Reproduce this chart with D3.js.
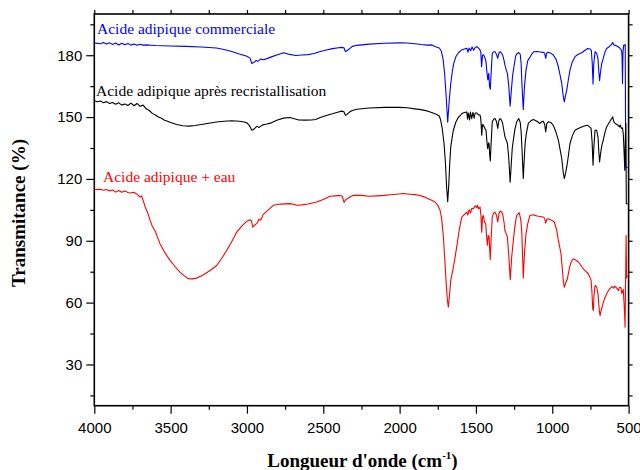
<!DOCTYPE html>
<html>
<head>
<meta charset="utf-8">
<script src="https://cdn.jsdelivr.net/npm/d3@7"></script>
<style>
  body { margin: 0; background: #fff; }
  svg { display: block; }
</style>
</head>
<body>
<svg id="chart" width="640" height="470"></svg>
<script>
// ---- data (wavenumber cm-1, transmittance %) ----
var wnCommerciale = [4000,3960,3940,3920,3900,3880,3860,3840,3820,3800,3780,3760,3740,3720,3700,3680,3650,3600,3500,3400,3300,3200,3150,3100,3050,3000,2980,2968,2960,2950,2940,2930,2910,2890,2860,2840,2800,2760,2720,2680,2640,2600,2560,2520,2480,2440,2400,2380,2365,2355,2345,2330,2310,2280,2200,2100,2000,1950,1900,1860,1820,1790,1760,1740,1728,1715,1705,1695,1685,1675,1665,1655,1645,1630,1615,1595,1575,1560,1552,1545,1535,1525,1515,1505,1495,1485,1475,1468,1463,1457,1450,1440,1434,1427,1422,1416,1411,1406,1400,1393,1385,1375,1366,1357,1350,1342,1333,1325,1316,1310,1300,1294,1285,1276,1268,1260,1250,1240,1233,1220,1210,1204,1198,1190,1182,1172,1160,1150,1135,1120,1100,1080,1060,1050,1043,1036,1026,1010,993,975,960,948,938,928,921,913,905,895,884,870,851,830,807,785,768,752,744,738,733,728,720,709,700,695,690,684,676,666,655,644,630,618,610,604,598,591,580,569,558,547,543,540,537,532,525,522,519,506];
var tCommerciale = [186.0,185.6,186.2,185.4,186.0,185.2,185.9,185.0,185.8,185.1,185.7,184.9,185.5,184.8,185.3,184.9,185.0,184.7,184.5,184.3,184.0,183.5,182.8,181.8,180.6,179.5,178.6,176.0,176.3,176.8,177.5,177.0,178.1,177.8,178.6,179.2,180.2,181.2,180.4,179.9,180.1,180.3,180.8,181.8,182.5,183.2,183.6,183.8,183.6,181.8,182.2,183.0,184.3,184.8,185.4,185.8,186.0,185.9,185.6,185.2,184.9,185.0,184.0,183.5,182.2,178.0,171.0,160.0,147.5,158.0,166.3,172.0,176.2,179.5,181.2,182.5,183.0,183.4,181.5,183.5,182.2,184.0,182.4,183.8,184.1,183.6,182.8,181.5,174.4,180.0,180.2,178.5,176.8,171.0,168.0,171.2,165.0,163.5,172.0,180.9,181.7,181.7,180.5,178.5,181.0,181.7,181.0,180.1,177.5,175.2,172.5,171.2,165.0,155.3,163.0,170.0,175.0,179.5,180.6,181.3,180.5,176.0,165.0,153.7,165.0,172.8,177.5,178.5,180.5,181.7,181.8,181.6,181.4,181.0,178.5,181.2,181.4,181.0,180.1,178.0,174.4,170.0,166.3,160.0,157.4,160.5,163.1,168.0,172.8,176.5,179.3,180.5,181.2,182.4,183.3,183.0,182.2,176.0,166.0,176.0,181.7,180.9,178.0,172.0,167.6,172.0,176.0,178.5,181.5,183.3,184.0,184.8,185.5,186.2,185.0,184.9,184.6,184.1,183.5,182.5,180.0,166.3,181.0,184.9,184.9,185.2,125.8,125.5];

var wnRecrist = [4000,3980,3960,3940,3920,3900,3880,3860,3840,3820,3800,3780,3760,3740,3720,3700,3680,3660,3640,3620,3600,3580,3560,3540,3520,3500,3460,3420,3380,3340,3300,3250,3200,3150,3100,3050,3020,3000,2985,2968,2958,2948,2935,2920,2900,2870,2840,2800,2760,2720,2690,2660,2620,2580,2550,2520,2480,2440,2400,2380,2365,2355,2345,2330,2310,2280,2200,2100,2000,1950,1900,1860,1820,1790,1760,1740,1731,1720,1709,1700,1692,1685,1678,1672,1665,1655,1648,1632,1616,1600,1593,1575,1560,1555,1550,1542,1536,1528,1520,1512,1505,1495,1485,1473,1468,1462,1457,1452,1444,1434,1428,1423,1417,1414,1410,1406,1400,1393,1384,1375,1366,1357,1350,1342,1333,1325,1316,1310,1300,1294,1285,1276,1268,1262,1255,1245,1233,1220,1210,1204,1198,1190,1182,1178,1170,1157,1140,1124,1100,1082,1068,1059,1050,1043,1036,1026,1010,993,975,960,948,938,928,921,913,905,895,884,868,851,830,807,785,768,752,746,739,733,727,720,709,700,695,690,684,676,666,655,644,630,618,610,604,598,591,580,569,560,555,547,540,535,532,528,525,521,518,515,507];
var tRecrist = [157.9,157.4,157.8,157.0,157.5,156.6,157.1,156.2,156.9,155.8,156.4,155.6,156.8,155.5,156.6,155.2,155.8,154.0,153.2,151.8,151.0,150.0,149.4,148.5,148.0,147.4,146.4,145.8,145.6,145.9,146.4,147.0,147.6,148.0,148.2,148.0,147.6,147.2,146.0,143.6,144.0,144.6,145.5,145.0,146.1,146.6,147.2,148.6,149.5,149.8,149.2,148.6,148.5,148.6,148.8,149.8,150.8,151.6,152.5,152.9,152.6,150.9,151.3,152.3,153.2,153.8,154.4,154.7,154.7,154.5,154.0,153.6,153.0,152.2,151.4,150.5,148.5,144.0,137.2,128.0,116.0,109.0,117.0,127.0,135.5,140.5,143.6,147.5,149.8,151.0,151.7,152.2,152.5,149.0,152.0,148.6,152.4,149.2,152.3,149.5,152.0,152.0,151.2,150.9,149.0,141.2,146.5,146.1,145.0,143.6,138.0,134.7,137.5,137.2,132.0,128.7,138.0,147.7,149.0,149.3,148.0,144.5,148.2,149.3,148.5,146.9,143.0,140.4,138.5,137.2,130.0,118.4,128.0,135.0,138.8,144.0,147.7,149.3,147.5,143.0,134.0,120.2,132.0,137.0,142.0,146.9,148.2,148.8,148.0,146.9,147.8,148.0,146.5,142.8,146.8,147.7,147.4,146.0,142.5,138.8,134.0,129.9,123.0,120.2,122.8,125.8,131.0,137.2,141.0,143.6,144.5,145.2,145.8,146.0,145.0,144.5,138.0,126.6,136.0,143.6,143.6,140.0,133.0,128.2,132.0,136.0,138.8,142.5,145.2,147.0,148.5,149.3,150.1,148.0,147.2,146.5,146.0,145.2,146.2,144.5,144.8,142.0,137.2,130.0,124.2,141.0,147.0,108.0,108.0];

var wnEau = [4000,3980,3960,3940,3920,3900,3880,3860,3840,3820,3800,3780,3765,3740,3720,3700,3690,3680,3667,3650,3635,3620,3600,3585,3570,3540,3504,3470,3439,3410,3384,3360,3329,3290,3242,3198,3165,3133,3100,3067,3030,3000,2980,2970,2962,2952,2936,2920,2910,2893,2860,2827,2780,2718,2690,2674,2640,2600,2543,2500,2456,2420,2390,2375,2364,2352,2340,2320,2305,2250,2200,2150,2100,2063,2020,1976,1930,1900,1866,1840,1814,1790,1768,1750,1735,1725,1713,1705,1696,1688,1681,1674,1665,1652,1640,1626,1610,1593,1575,1560,1553,1545,1535,1528,1517,1505,1495,1491,1482,1473,1467,1462,1457,1452,1444,1436,1430,1425,1419,1414,1410,1406,1400,1393,1384,1375,1366,1357,1350,1342,1333,1325,1316,1310,1300,1294,1285,1275,1266,1255,1245,1233,1216,1206,1200,1195,1190,1182,1172,1160,1146,1124,1100,1080,1059,1050,1043,1036,1026,1005,987,972,960,950,943,935,927,921,912,901,892,884,873,862,845,829,812,797,780,764,752,746,740,735,731,727,720,709,700,693,687,680,668,654,640,625,610,598,590,584,575,567,558,550,545,541,535,530,526,523,519,516,513,508];
var tEau = [115.0,114.8,115.0,114.5,114.9,114.2,114.6,113.6,114.4,113.5,114.2,113.4,113.2,113.5,112.5,111.2,111.8,109.6,106.4,103.5,100.0,97.0,94.5,91.5,88.6,84.5,80.5,77.4,74.8,73.0,71.6,71.5,71.9,73.3,75.6,78.0,81.5,85.3,89.5,94.2,97.5,99.5,100.2,99.5,96.6,97.5,98.3,100.5,100.0,102.8,105.0,107.2,107.8,108.0,107.6,107.2,107.4,107.8,108.8,110.0,111.6,111.8,112.0,111.5,108.6,110.0,110.5,111.5,112.0,112.0,111.6,111.8,112.0,112.3,112.6,112.9,112.6,112.4,112.0,111.3,110.4,109.6,108.8,107.2,104.8,101.0,91.8,82.0,70.8,62.0,57.8,63.0,70.8,75.6,80.5,87.0,95.0,101.5,102.8,103.9,102.5,105.0,103.5,105.6,105.6,107.0,106.0,107.2,105.5,106.4,102.0,94.2,101.5,102.3,99.0,98.3,92.0,87.8,92.5,91.8,86.0,80.8,92.0,101.5,103.5,103.9,102.5,99.1,103.0,104.4,104.0,103.1,99.0,95.0,93.0,91.8,83.0,71.1,82.0,90.2,97.0,102.3,103.6,100.0,95.0,84.0,72.0,84.0,93.5,98.5,102.3,102.6,102.0,101.8,101.5,101.0,98.6,100.4,100.7,100.0,99.1,95.5,90.2,86.5,83.7,77.0,70.0,67.5,69.5,71.6,75.0,78.0,80.2,81.3,80.6,79.7,78.0,76.4,75.2,74.0,72.0,70.8,65.0,57.0,56.2,63.0,68.3,67.5,64.0,57.0,53.7,56.0,59.5,62.6,64.8,66.6,67.8,67.0,68.0,67.5,66.8,65.9,67.5,67.2,64.5,65.0,66.5,60.2,54.0,48.1,75.0,92.6,72.0,73.2];

var xMajorTicks = [4000,3500,3000,2500,2000,1500,1000,500];
var yMajorTicks = [30,60,90,120,150,180];

var series = [
    {name: "Acide adipique commerciale", wn: wnCommerciale, t: tCommerciale, color: "#0000ff", lx: 97, ly: 34},
    {name: "Acide adipique après recristallisation", wn: wnRecrist, t: tRecrist, color: "#000000", lx: 96, ly: 96},
    {name: "Acide adipique + eau", wn: wnEau, t: tEau, color: "#ff0000", lx: 103, ly: 182}
];

// ---- layout ----
var svg = d3.select("#chart");
var pLeft = 94.3, pRight = 628.6, pTop = 14, pBottom = 405.7;

var x = d3.scaleLinear().domain([4000, 500]).range([pLeft, pRight]);
var y = d3.scaleLinear().domain([10, 200]).range([pBottom, pTop]);

var tickFont = "'Liberation Sans', Arial, sans-serif";
var serif = "'Liberation Serif', 'Times New Roman', serif";

svg.append("defs").append("clipPath").attr("id", "plotclip")
    .append("rect")
    .attr("x", pLeft).attr("y", pTop - 2)
    .attr("width", pRight - pLeft + 1).attr("height", pBottom - pTop + 2);

// minor tick values (every 250 on x, every 15 on y)
var xAllTicks = d3.range(4000, 499, -250);
var yAllTicks = d3.range(15, 200, 15);
var xMinorTicks = xAllTicks.filter(function(v) { return xMajorTicks.indexOf(v) < 0; });
var yMinorTicks = yAllTicks.filter(function(v) { return yMajorTicks.indexOf(v) < 0; });

function styleAxis(g) {
    g.select(".domain").remove();
    g.selectAll(".tick line").attr("stroke", "#000").attr("stroke-width", 1.2);
}

// bottom axis
svg.append("g").attr("transform", "translate(0," + pBottom + ")")
    .call(d3.axisBottom(x).tickValues(xMajorTicks).tickSize(8).tickPadding(9).tickFormat(d3.format("d")))
    .call(styleAxis)
    .selectAll("text").attr("font-family", tickFont).attr("font-size", 15).attr("fill", "#000");
svg.append("g").attr("transform", "translate(0," + pBottom + ")")
    .call(d3.axisBottom(x).tickValues(xMinorTicks).tickSize(4).tickFormat(""))
    .call(styleAxis);

// left axis
svg.append("g").attr("transform", "translate(" + pLeft + ",0)")
    .call(d3.axisLeft(y).tickValues(yMajorTicks).tickSize(8).tickPadding(4))
    .call(styleAxis)
    .selectAll("text").attr("font-family", tickFont).attr("font-size", 15).attr("fill", "#000");
svg.append("g").attr("transform", "translate(" + pLeft + ",0)")
    .call(d3.axisLeft(y).tickValues(yMinorTicks).tickSize(4).tickFormat(""))
    .call(styleAxis);

// top and right axes: short outward ticks, no labels
svg.append("g").attr("transform", "translate(0," + pTop + ")")
    .call(d3.axisTop(x).tickValues(xAllTicks).tickSize(4).tickFormat(""))
    .call(styleAxis);
svg.append("g").attr("transform", "translate(" + pRight + ",0)")
    .call(d3.axisRight(y).tickValues(yAllTicks).tickSize(4).tickFormat(""))
    .call(styleAxis);

// frame
svg.append("rect")
    .attr("x", pLeft).attr("y", pTop)
    .attr("width", pRight - pLeft).attr("height", pBottom - pTop)
    .attr("fill", "none").attr("stroke", "#000").attr("stroke-width", 1.6);

// spectra
var plot = svg.append("g").attr("clip-path", "url(#plotclip)");
series.forEach(function(s) {
    var pts = s.wn.map(function(w, i) { return [w, s.t[i]]; });
    var line = d3.line()
        .x(function(d) { return x(d[0]); })
        .y(function(d) { return y(d[1]); });
    plot.append("path")
        .datum(pts)
        .attr("d", line)
        .attr("fill", "none")
        .attr("stroke", s.color)
        .attr("stroke-width", 1.1)
        .attr("stroke-linejoin", "round");
});

// series labels
svg.selectAll("text.serieslabel")
    .data(series)
    .enter()
    .append("text")
    .attr("class", "serieslabel")
    .attr("x", function(d) { return d.lx; })
    .attr("y", function(d) { return d.ly; })
    .attr("font-family", serif)
    .attr("font-size", 15.5)
    .attr("fill", function(d) { return d.color; })
    .text(function(d) { return d.name; });

// axis titles
var xt = svg.append("text")
    .attr("x", (pLeft + pRight) / 2 + 1)
    .attr("y", 467)
    .attr("text-anchor", "middle")
    .attr("font-family", serif)
    .attr("font-weight", "bold")
    .attr("font-size", 19)
    .attr("fill", "#000");
xt.append("tspan").text("Longueur d'onde (cm");
xt.append("tspan").attr("font-size", 11).attr("dy", -8).text("-1");
xt.append("tspan").attr("dy", 8).text(")");

svg.append("text")
    .attr("transform", "translate(25,213) rotate(-90)")
    .attr("text-anchor", "middle")
    .attr("font-family", serif)
    .attr("font-weight", "bold")
    .attr("font-size", 19)
    .attr("fill", "#000")
    .text("Transmitance (%)");
</script>
</body>
</html>
